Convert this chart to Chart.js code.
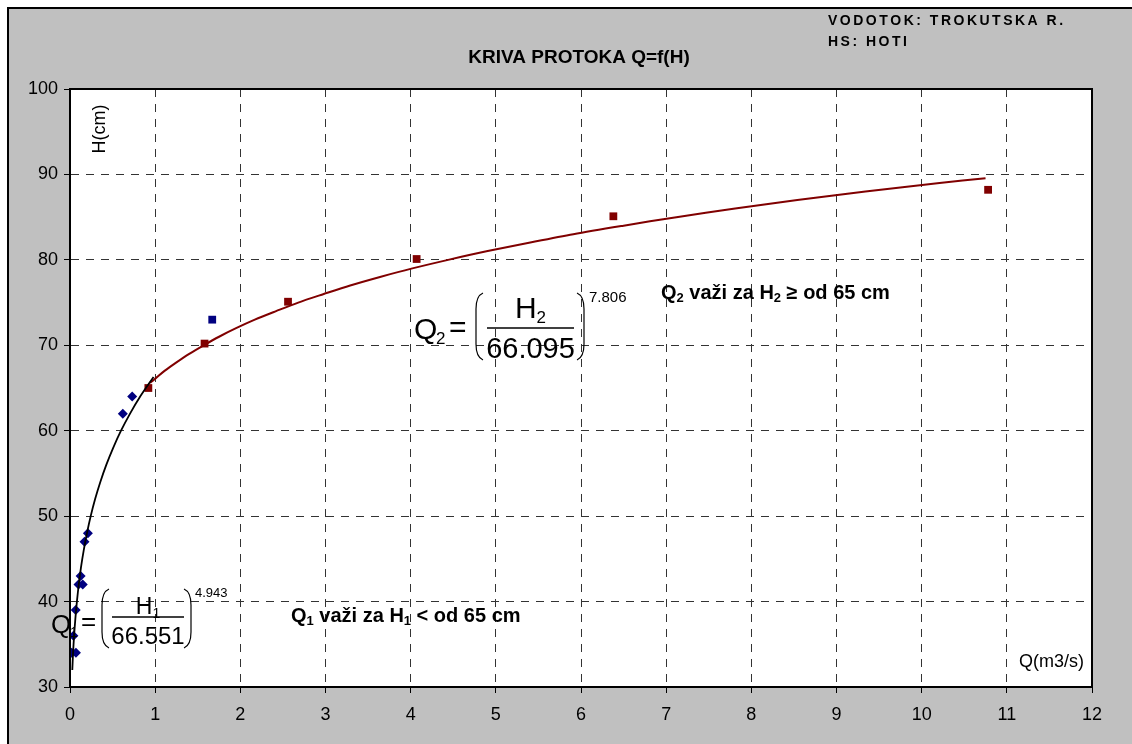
<!DOCTYPE html>
<html>
<head>
<meta charset="utf-8">
<script src="https://cdn.jsdelivr.net/npm/chart.js@4.4.1/dist/chart.umd.min.js"></script>
<style>
html, body { margin: 0; padding: 0; background: #fff; }
#wrap { width: 1132px; height: 744px; }
</style>
</head>
<body>
<div id="wrap"><canvas id="krivaChart" width="1132" height="744"></canvas></div>
<script>
// mjerenja H < 65 cm (plavo)
const q1Meas = [0.02, 0.07, 0.04, 0.067, 0.10, 0.15, 0.125, 0.17, 0.21, 0.62, 0.73];
const h1Meas = [34, 34, 36, 39, 42, 42, 43, 47, 48, 62, 64];
// plavi kvadrat
const qBlueSq = [1.67];
const hBlueSq = [73];
// mjerenja H >= 65 cm (crveno)
const q2Meas = [0.92, 1.58, 2.56, 4.07, 6.38, 10.78];
const h2Meas = [65, 70.2, 75.1, 80.1, 85.1, 88.2];

// kriva Q1 (crna)
const h1Curve = [32, 34, 36, 38, 40, 42, 44, 46, 48, 50, 52, 54, 56, 58, 60, 62, 64, 66.3];
const q1Curve = [0.027, 0.036, 0.048, 0.063, 0.081, 0.103, 0.129, 0.161, 0.199, 0.243, 0.295, 0.356, 0.426, 0.507, 0.599, 0.705, 0.824, 0.981];
// kriva Q2 (crvena)
const h2Curve = [65.6, 66, 67, 68, 69, 70, 71, 72, 73, 74, 75, 76, 77, 78, 79, 80, 81, 82, 83, 84, 85, 86, 87, 88, 89, 89.55];
const q2Curve = [0.94, 0.99, 1.11, 1.25, 1.40, 1.57, 1.75, 1.95, 2.17, 2.42, 2.68, 2.98, 3.29, 3.64, 4.02, 4.44, 4.89, 5.39, 5.91, 6.50, 7.12, 7.81, 8.54, 9.34, 10.21, 10.75];

const xTicks = [0, 1, 2, 3, 4, 5, 6, 7, 8, 9, 10, 11, 12];
const yTicks = [30, 40, 50, 60, 70, 80, 90, 100];

const FONT = 'Arial, "Liberation Sans", sans-serif';
const MAROON = '#800000';
const NAVY = '#000080';

function toPoints(xs, ys) {
    return xs.map((x, i) => ({ x, y: ys[i] }));
}

// tekst sa razmakom izmedju slova
function spacedText(ctx, text, x, y, spacing) {
    let cx = x;
    for (const ch of text) {
        ctx.fillText(ch, cx, y);
        cx += ctx.measureText(ch).width + spacing;
    }
}

// tekst sa indeksima: dijelovi [tekst, jeIndeks]
function richText(ctx, parts, x, y, size, subSize, bold) {
    let cx = x;
    const w = bold ? 'bold ' : '';
    parts.forEach(([t, sub]) => {
        ctx.font = w + (sub ? subSize : size) + 'px ' + FONT;
        ctx.fillText(t, cx, sub ? y + size * 0.15 : y);
        cx += ctx.measureText(t).width;
    });
}

function paren(ctx, x, top, bot, dir) {
    const d = 7 * dir;
    ctx.beginPath();
    ctx.moveTo(x + d, top);
    ctx.quadraticCurveTo(x, top + 3, x, top + 16);
    ctx.lineTo(x, bot - 16);
    ctx.quadraticCurveTo(x, bot - 3, x + d, bot);
    ctx.stroke();
}

// jednacina Q = (H / a)^b
function drawEquation(ctx, e) {
    ctx.save();
    ctx.fillStyle = '#000';
    ctx.strokeStyle = '#000';
    ctx.textBaseline = 'alphabetic';
    ctx.textAlign = 'left';
    ctx.font = e.qSize + 'px ' + FONT;
    ctx.fillText('Q', e.x, e.qBase);
    ctx.font = e.subSize + 'px ' + FONT;
    ctx.fillText(e.idx, e.subX, e.subBase);
    ctx.font = e.qSize + 'px ' + FONT;
    ctx.fillText('=', e.eqX, e.eqBase);
    ctx.lineWidth = 1.2;
    paren(ctx, e.parL, e.parTop, e.parBot, 1);
    paren(ctx, e.parR, e.parTop, e.parBot, -1);
    ctx.lineWidth = 1.3;
    ctx.beginPath();
    ctx.moveTo(e.barL, e.barY);
    ctx.lineTo(e.barR, e.barY);
    ctx.stroke();
    const mid = (e.barL + e.barR) / 2;
    // brojnik
    ctx.font = e.numSize + 'px ' + FONT;
    const hw = ctx.measureText('H').width;
    ctx.font = e.subSize + 'px ' + FONT;
    const sw = ctx.measureText(e.idx).width;
    const nx = mid - (hw + sw) / 2;
    ctx.font = e.numSize + 'px ' + FONT;
    ctx.fillText('H', nx, e.numBase);
    ctx.font = e.subSize + 'px ' + FONT;
    ctx.fillText(e.idx, nx + hw, e.numBase + e.subSize * 0.3);
    // nazivnik
    ctx.font = e.denSize + 'px ' + FONT;
    ctx.textAlign = 'center';
    ctx.fillText(e.den, mid, e.denBase);
    // eksponent
    ctx.textAlign = 'left';
    ctx.font = e.expSize + 'px ' + FONT;
    ctx.fillText(e.exp, e.expX, e.expBase);
    ctx.restore();
}

const bgPlugin = {
    id: 'bgPlugin',
    beforeDraw(chart) {
        const { ctx, chartArea: a, width, height } = chart;
        ctx.save();
        ctx.fillStyle = '#fff';
        ctx.fillRect(0, 0, width, height);
        ctx.fillStyle = '#c0c0c0';
        ctx.fillRect(8, 8, width - 8, height - 8);
        ctx.strokeStyle = '#000';
        ctx.lineWidth = 2;
        ctx.beginPath();
        ctx.moveTo(8, height);
        ctx.lineTo(8, 8);
        ctx.lineTo(width, 8);
        ctx.stroke();
        ctx.fillStyle = '#fff';
        ctx.fillRect(a.left, a.top, a.right - a.left, a.bottom - a.top);
        ctx.restore();
    }
};

const textPlugin = {
    id: 'textPlugin',
    afterDraw(chart) {
        const { ctx, chartArea: a } = chart;
        ctx.save();
        // okvir
        ctx.strokeStyle = '#000';
        ctx.lineWidth = 2;
        ctx.strokeRect(a.left, a.top, a.right - a.left, a.bottom - a.top);

        ctx.fillStyle = '#000';
        ctx.textBaseline = 'alphabetic';
        ctx.textAlign = 'center';
        ctx.font = 'bold 19px ' + FONT;
        ctx.fillText('KRIVA PROTOKA Q=f(H)', 579, 63);

        ctx.textAlign = 'left';
        ctx.font = 'bold 14px ' + FONT;
        spacedText(ctx, 'VODOTOK: TROKUTSKA R.', 828, 25, 2.5);
        spacedText(ctx, 'HS: HOTI', 828, 46, 2.5);

        ctx.font = '18px ' + FONT;
        ctx.fillText('Q(m3/s)', 1019, 667);
        ctx.save();
        ctx.translate(105, 129);
        ctx.rotate(-Math.PI / 2);
        ctx.textAlign = 'center';
        ctx.fillText('H(cm)', 0, 0);
        ctx.restore();

        richText(ctx, [['Q', 0], ['2', 1], [' važi za H', 0], ['2', 1], [' ≥ od 65 cm', 0]], 661, 299, 20, 13, true);
        richText(ctx, [['Q', 0], ['1', 1], [' važi za H', 0], ['1', 1], [' < od 65 cm', 0]], 291, 622, 20, 13, true);

        drawEquation(ctx, {
            idx: '2', den: '66.095', exp: '7.806',
            x: 414, qBase: 339, qSize: 30, subX: 436, subBase: 344, subSize: 17,
            eqX: 449, eqBase: 337,
            parL: 476, parR: 584, parTop: 293, parBot: 360,
            barL: 487, barR: 574, barY: 328,
            numSize: 30, numBase: 318, denSize: 29, denBase: 358,
            expX: 589, expBase: 302, expSize: 15
        });
        drawEquation(ctx, {
            idx: '1', den: '66.551', exp: '4.943',
            x: 51, qBase: 633, qSize: 26, subX: 70, subBase: 637, subSize: 14,
            eqX: 81, eqBase: 630,
            parL: 102, parR: 191, parTop: 589, parBot: 648,
            barL: 112, barR: 184, barY: 617,
            numSize: 23, numBase: 614, denSize: 24, denBase: 644,
            expX: 195, expBase: 597, expSize: 13
        });
        ctx.restore();
    }
};

new Chart(document.getElementById('krivaChart'), {
    type: 'scatter',
    data: {
        datasets: [
            {
                data: toPoints(q1Curve, h1Curve),
                showLine: true,
                borderColor: '#000',
                borderWidth: 1.8,
                pointRadius: 0,
                tension: 0.3
            },
            {
                data: toPoints(q2Curve, h2Curve),
                showLine: true,
                borderColor: MAROON,
                borderWidth: 2,
                pointRadius: 0,
                tension: 0.3
            },
            {
                data: toPoints(q1Meas, h1Meas),
                pointStyle: 'rectRot',
                pointRadius: 5,
                backgroundColor: NAVY,
                borderColor: NAVY,
                borderWidth: 0
            },
            {
                data: toPoints(qBlueSq, hBlueSq),
                pointStyle: 'rect',
                pointRadius: 5.5,
                backgroundColor: NAVY,
                borderColor: NAVY,
                borderWidth: 0
            },
            {
                data: toPoints(q2Meas, h2Meas),
                pointStyle: 'rect',
                pointRadius: 5.5,
                backgroundColor: MAROON,
                borderColor: MAROON,
                borderWidth: 0
            }
        ]
    },
    options: {
        responsive: false,
        animation: false,
        layout: { padding: { top: 89, right: 40, left: 0, bottom: 0 } },
        plugins: {
            legend: { display: false },
            tooltip: { enabled: false },
            title: { display: false }
        },
        scales: {
            x: {
                type: 'linear',
                min: 0,
                max: 12,
                afterBuildTicks: (scale) => { scale.ticks = xTicks.map(v => ({ value: v })); },
                afterFit: (scale) => { scale.height = 57; },
                ticks: { color: '#000', font: { size: 18, family: FONT }, padding: 11, maxRotation: 0 },
                grid: { color: '#333', lineWidth: 1, tickColor: '#000', tickLength: 6, tickBorderDash: [] },
                border: { display: true, color: '#000', width: 2, dash: [8, 7] }
            },
            y: {
                type: 'linear',
                min: 30,
                max: 100,
                afterBuildTicks: (scale) => { scale.ticks = yTicks.map(v => ({ value: v })); },
                afterFit: (scale) => { scale.width = 70; },
                ticks: { color: '#000', font: { size: 18, family: FONT }, padding: 6 },
                grid: { color: '#333', lineWidth: 1, tickColor: '#000', tickLength: 6, tickBorderDash: [] },
                border: { display: true, color: '#000', width: 2, dash: [8, 7] }
            }
        }
    },
    plugins: [bgPlugin, textPlugin]
});
</script>
</body>
</html>
